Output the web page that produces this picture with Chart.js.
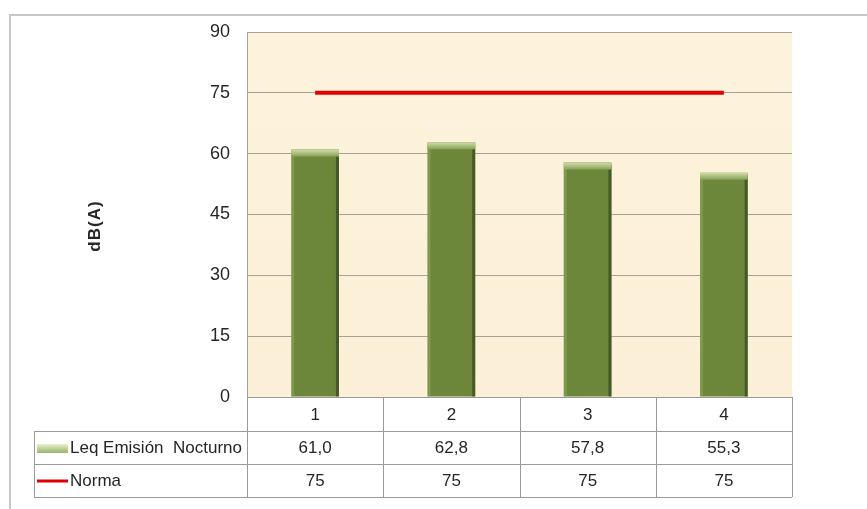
<!DOCTYPE html>
<html>
<head>
<meta charset="utf-8">
<script src="https://cdn.jsdelivr.net/npm/chart.js@4"></script>
<style>
  html, body { margin: 0; padding: 0; background: #fff; }
  #wrap { width: 867px; height: 509px; }
</style>
</head>
<body>
<div id="wrap"><canvas id="chart" width="867" height="509"></canvas></div>
<script>
// ===== DATA =====
const categories = ['1', '2', '3', '4'];
const leqNocturno = [61.0, 62.8, 57.8, 55.3];
const norma = [75, 75, 75, 75];
const yTicks = [0, 15, 30, 45, 60, 75, 90];
const seriesNames = ['Leq Emisión  Nocturno', 'Norma'];
const yTitle = 'dB(A)';

const FONT = '"Liberation Sans", Arial, sans-serif';
const fmt = v => v.toFixed(1).replace('.', ',');

// ===== PLUGINS =====
const frame = {
  id: 'frame',
  beforeDraw(chart) {
    const c = chart.ctx, a = chart.chartArea;
    c.save();
    // outer frame
    c.strokeStyle = '#c8c8c8';
    c.lineWidth = 2;
    c.beginPath();
    c.moveTo(867, 15); c.lineTo(10, 15); c.lineTo(10, 509);
    c.stroke();
    // plot background
    const g = c.createLinearGradient(0, a.top, 0, a.bottom);
    g.addColorStop(0, '#fdf2db');
    g.addColorStop(1, '#fbefd7');
    c.fillStyle = g;
    c.fillRect(a.left, a.top, a.right - a.left, a.bottom - a.top);
    c.restore();
  },
  afterDatasetsDraw(chart) {
    const c = chart.ctx;
    const meta = chart.getDatasetMeta(0);
    c.save();
    meta.data.forEach(bar => {
      const w = bar.width, x0 = bar.x - w / 2, y0 = bar.y;
      // light left edge, dark right edge
      c.fillStyle = 'rgba(150,175,100,0.45)';
      c.fillRect(x0, y0 + 2, 3, bar.base - y0 - 2);
      c.fillStyle = 'rgba(40,50,20,0.55)';
      c.fillRect(x0 + w - 3, y0 + 2, 3, bar.base - y0 - 2);
      // light top cap
      const cg = c.createLinearGradient(0, y0, 0, y0 + 7);
      cg.addColorStop(0, '#d0ddaa');
      cg.addColorStop(1, '#87a055');
      c.fillStyle = cg;
      c.fillRect(x0, y0, w, 7);
    });
    c.restore();
  },
  afterDraw(chart) {
    const c = chart.ctx, a = chart.chartArea, x = chart.scales.x;
    const rowH = [a.bottom, a.bottom + 34, a.bottom + 67, a.bottom + 100];
    const left = 34;
    const edges = [];
    for (let i = 0; i < categories.length; i++) edges.push(x.getPixelForValue(i) - (a.right - a.left) / categories.length / 2);
    edges.push(a.right);
    c.save();
    c.strokeStyle = '#9a9a9a';
    c.lineWidth = 1;
    c.beginPath();
    c.moveTo(a.left, rowH[0] + 0.5); c.lineTo(a.right, rowH[0] + 0.5);
    for (let r = 1; r < 4; r++) { c.moveTo(left, rowH[r] + 0.5); c.lineTo(a.right, rowH[r] + 0.5); }
    c.moveTo(left + 0.5, rowH[1]); c.lineTo(left + 0.5, rowH[3]);
    edges.forEach(e => { c.moveTo(Math.round(e) + 0.5, rowH[0]); c.lineTo(Math.round(e) + 0.5, rowH[3]); });
    c.stroke();

    c.fillStyle = '#262626';
    c.font = '17px ' + FONT;
    c.textAlign = 'center';
    c.textBaseline = 'middle';
    categories.forEach((lab, i) => {
      const cx = x.getPixelForValue(i);
      c.fillText(lab, cx, (rowH[0] + rowH[1]) / 2 + 1);
      c.fillText(fmt(leqNocturno[i]), cx, (rowH[1] + rowH[2]) / 2 + 1);
      c.fillText(String(norma[i]), cx, (rowH[2] + rowH[3]) / 2 + 1);
    });

    // legend keys
    const kg = c.createLinearGradient(0, 444, 0, 453);
    kg.addColorStop(0, '#e8efcf');
    kg.addColorStop(1, '#9bb36a');
    c.fillStyle = kg;
    c.fillRect(37, 444, 31, 9);
    c.strokeStyle = '#e00000';
    c.lineWidth = 3;
    c.beginPath(); c.moveTo(37, 481); c.lineTo(68, 481); c.stroke();
    c.fillStyle = '#262626';
    c.textAlign = 'left';
    c.fillText(seriesNames[0], 70, (rowH[1] + rowH[2]) / 2 + 1);
    c.fillText(seriesNames[1], 70, (rowH[2] + rowH[3]) / 2 + 1);

    // y title
    c.save();
    c.translate(95, 226);
    c.rotate(-Math.PI / 2);
    c.textAlign = 'center';
    c.font = 'bold 17px ' + FONT;
    c.letterSpacing = '1px';
    c.fillText(yTitle, 0, 0);
    c.restore();
    c.restore();
  }
};

// ===== CHART =====
const ctx = document.getElementById('chart');

new Chart(ctx, {
  data: {
    labels: categories,
    datasets: [
      {
        type: 'bar',
        label: seriesNames[0],
        data: leqNocturno,
        backgroundColor: '#6c873a',
        borderWidth: 0,
        categoryPercentage: 1,
        barPercentage: 0.35,
        order: 2
      },
      {
        type: 'line',
        label: seriesNames[1],
        data: norma,
        borderColor: '#e30000',
        borderWidth: 4,
        pointRadius: 0,
        fill: false,
        order: 1
      }
    ]
  },
  options: {
    responsive: false,
    animation: false,
    layout: { padding: { top: 32, right: 75, bottom: 112, left: 0 } },
    plugins: { legend: { display: false }, tooltip: { enabled: false } },
    scales: {
      x: {
        display: false,
        offset: true
      },
      y: {
        min: 0,
        max: 90,
        afterBuildTicks: s => { s.ticks = yTicks.map(v => ({ value: v })); },
        afterFit: s => { s.width = 247; },
        grid: { color: '#a7a295', drawTicks: false },
        border: { color: '#a0a0a0' },
        ticks: { padding: 17, color: '#262626', font: { family: FONT, size: 18 } }
      }
    }
  },
  plugins: [frame]
});
</script>
</body>
</html>
